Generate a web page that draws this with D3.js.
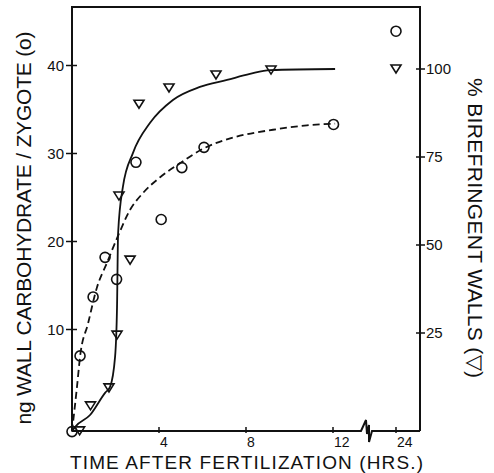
<!DOCTYPE html>
<html>
<head>
<meta charset="utf-8">
<script src="https://cdn.jsdelivr.net/npm/d3@7/dist/d3.min.js"></script>
<style>
 body { margin: 0; background: #fff; }
 text { font-family: "Liberation Sans", Arial, sans-serif; fill: #111; }
</style>
</head>
<body>
<div id="chart"></div>
<script>
// circles: wall carbohydrate (ng / zygote), left axis
var carbHours = [0, 0.37, 0.97, 1.52, 2.05, 2.94, 4.1, 5.05, 6.07, 12.1, 24];
var carbNg = [-1.6, 7.0, 13.7, 18.2, 15.7, 29.0, 22.5, 28.4, 30.7, 33.3, 43.9];

// triangles: % birefringent walls, right axis
var biriHours = [0.35, 0.85, 1.7, 2.07, 2.16, 2.67, 3.08, 4.46, 6.62, 9.15, 24];
var biriPct = [-2.8, 4.3, 9.4, 24.4, 63.9, 45.7, 90, 94.6, 98.3, 99.7, 100];

// hand drawn fitted curves
var solidHours = [0, 0.14, 0.83, 1.52, 1.75, 1.98, 2.07, 2.12, 2.34, 2.8, 3.59, 4.64, 5.88, 7.13, 8.18, 9.1, 12.4];
var solidPct = [-3, -1.7, 1.7, 8, 9.7, 18.2, 32.4, 53.4, 66.5, 76.1, 84.7, 91.2, 94.9, 96.9, 98.6, 99.7, 100];
var dashHours = [0, 0.23, 0.37, 0.74, 1.15, 1.61, 2.11, 2.67, 3.26, 4.05, 4.97, 6.07, 7.4, 9.24, 10.8, 12.4];
var dashNg = [-1.6, 3.5, 6.9, 10.7, 14.8, 17.6, 20.6, 23.6, 25.5, 27.3, 28.9, 30.6, 31.8, 32.7, 33.2, 33.4];

var xTicks = [4, 8, 12, 24];
var leftTicks = [10, 20, 30, 40];
var rightTicks = [25, 50, 75, 100];

var W = 494, H = 473;
var plotL = 72, plotR = 420, plotT = 7, plotB = 431;

var svg = d3.select("#chart").append("svg").attr("width", W).attr("height", H);

var x = d3.scaleLinear().domain([0, 12, 24]).range([72, 333, 396]);
var yL = d3.scaleLinear().domain([0, 40]).range([417.5, 65.5]);
var yR = d3.scaleLinear().domain([0, 100]).range([421, 69]);

// frame
svg.append("path")
  .attr("d", "M" + plotL + "," + plotB + "V" + plotT + "H" + plotR + "V" + plotB)
  .attr("fill", "none").attr("stroke", "#111").attr("stroke-width", 2);
// x axis with break
var bx = 367;
svg.append("path")
  .attr("d", "M" + plotL + "," + plotB + "H" + (bx - 6) + "L" + (bx - 1) + "," + (plotB - 11) +
    "L" + bx + "," + (plotB + 3) + "L" + (bx + 2) + "," + (plotB - 6) + "L" + (bx + 2) + "," + (plotB + 11) +
    "L" + (bx + 5) + "," + plotB + "H" + plotR)
  .attr("fill", "none").attr("stroke", "#111").attr("stroke-width", 2);

// x ticks
var xt = svg.append("g").selectAll("g").data(xTicks).enter().append("g");
xt.append("line").attr("x1", d => x(d)).attr("x2", d => x(d))
  .attr("y1", plotB - 4).attr("y2", plotB + 2).attr("stroke", "#111").attr("stroke-width", 1.5);
xt.append("text").attr("x", d => x(d) + 1).attr("y", 447)
  .attr("font-size", 14).text(d => d);

// left ticks
var lt = svg.append("g").selectAll("g").data(leftTicks).enter().append("g");
lt.append("line").attr("x1", plotL - 6).attr("x2", plotL + 5)
  .attr("y1", d => yL(d)).attr("y2", d => yL(d)).attr("stroke", "#111").attr("stroke-width", 1.5);
lt.append("text").attr("x", 64).attr("y", d => yL(d) + 5)
  .attr("text-anchor", "end").attr("font-size", 15).text(d => d);

// right ticks
var rt = svg.append("g").selectAll("g").data(rightTicks).enter().append("g");
rt.append("line").attr("x1", plotR - 4).attr("x2", plotR + 5)
  .attr("y1", d => yR(d)).attr("y2", d => yR(d)).attr("stroke", "#111").attr("stroke-width", 1.5);
rt.append("text").attr("x", 426).attr("y", d => yR(d) + 5)
  .attr("font-size", 15).text(d => d);

// curves
var solid = d3.line().curve(d3.curveMonotoneX)
  .x(d => x(d[0])).y(d => yR(d[1]));
svg.append("path").datum(d3.zip(solidHours, solidPct))
  .attr("d", solid).attr("fill", "none").attr("stroke", "#111").attr("stroke-width", 1.8);

var dashed = d3.line().curve(d3.curveMonotoneX)
  .x(d => x(d[0])).y(d => yL(d[1]));
svg.append("path").datum(d3.zip(dashHours, dashNg))
  .attr("d", dashed).attr("fill", "none").attr("stroke", "#111").attr("stroke-width", 1.8)
  .attr("stroke-dasharray", "7,4");

// markers
svg.append("g").selectAll("circle").data(d3.zip(carbHours, carbNg)).enter().append("circle")
  .attr("cx", d => x(d[0])).attr("cy", d => yL(d[1])).attr("r", 5)
  .attr("fill", "none").attr("stroke", "#111").attr("stroke-width", 1.6);

svg.append("g").selectAll("path").data(d3.zip(biriHours, biriPct)).enter().append("path")
  .attr("transform", d => "translate(" + x(d[0]) + "," + yR(d[1]) + ")")
  .attr("d", "M-5,-4L5,-4L0,4Z")
  .attr("fill", "none").attr("stroke", "#111").attr("stroke-width", 1.6);

// titles
svg.append("text").attr("x", 70).attr("y", 469)
  .attr("font-size", 19).attr("textLength", 353).attr("lengthAdjust", "spacing")
  .text("TIME AFTER FERTILIZATION  (HRS.)");

svg.append("text").attr("transform", "translate(31,228) rotate(-90)")
  .attr("text-anchor", "middle").attr("font-size", 21)
  .attr("textLength", 393).attr("lengthAdjust", "spacing")
  .text("ng WALL CARBOHYDRATE / ZYGOTE  (o)");

svg.append("text").attr("transform", "translate(468,228) rotate(90)")
  .attr("text-anchor", "middle").attr("font-size", 21)
  .attr("textLength", 300).attr("lengthAdjust", "spacing")
  .text("% BIREFRINGENT  WALLS  (\u25BD)");
</script>
</body>
</html>
